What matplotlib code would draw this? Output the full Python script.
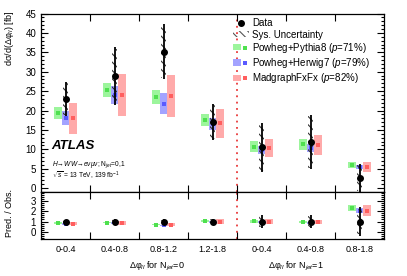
import matplotlib
matplotlib.use("Agg")
import matplotlib.pyplot as plt
import numpy as np
from matplotlib.patches import Patch
from matplotlib.lines import Line2D
from matplotlib.ticker import MultipleLocator, FixedLocator
from matplotlib.legend_handler import HandlerTuple

plt.rcParams['font.family'] = ['Liberation Sans', 'DejaVu Sans']
plt.rcParams['mathtext.fontset'] = 'custom'
plt.rcParams['mathtext.rm'] = 'Liberation Sans'
plt.rcParams['mathtext.it'] = 'Liberation Sans:italic'
plt.rcParams['mathtext.bf'] = 'Liberation Sans:bold'
plt.rcParams['hatch.linewidth'] = 0.8

# ---- data ----
bin_labels = ["0-0.4", "0.4-0.8", "0.8-1.2", "1.2-1.8", "0-0.4", "0.4-0.8", "0.8-1.8"]
obs = np.array([23.0, 28.9, 35.2, 17.0, 10.5, 11.8, 2.6])
obs_err = np.array([4.4, 7.4, 7.0, 4.6, 6.3, 7.0, 3.6])
obs_sys = np.array([4.1, 7.0, 6.7, 4.3, 6.0, 6.7, 3.3])
pythia = np.array([19.3, 25.3, 23.4, 17.6, 10.7, 11.3, 6.0])
pythia_err = np.array([1.5, 1.9, 1.8, 1.5, 1.5, 1.4, 0.8])
herwig = np.array([18.0, 23.9, 21.8, 16.6, 9.8, 10.3, 5.4])
herwig_err = np.array([1.8, 2.3, 2.6, 1.5, 1.1, 1.0, 0.6])
madgraph = np.array([18.0, 23.9, 23.8, 16.7, 10.3, 11.1, 5.4])
madgraph_err = np.array([4.0, 5.4, 5.4, 3.7, 2.4, 2.5, 1.3])

gen_names = ["Powheg+Pythia8 ($p$=71%)", "Powheg+Herwig7 ($p$=79%)", "MadgraphFxFx ($p$=82%)"]
gen_vals = [pythia, herwig, madgraph]
gen_errs = [pythia_err, herwig_err, madgraph_err]
gen_light = ["#9cf59c", "#a3a3ff", "#ffaaaa"]
gen_dark = ["#4fe04f", "#5a5aff", "#ff5e5e"]
gen_offsets = [-0.15, 0.0, 0.15]

W, H = 407, 276
fig = plt.figure(figsize=(W / 100, H / 100), dpi=100)
left, right = 41 / W, 384 / W
ax = fig.add_axes([left, 1 - 192 / H, right - left, (192 - 13.5) / H])
axr = fig.add_axes([left, 1 - 239 / H, right - left, (239 - 192) / H])

x = np.arange(len(obs)) + 0.5
box_w = 0.15
sys_w = 0.1


def draw(a, vals, errs, ovals, oerr, osys):
    for v, e, off, cl, cd in zip(vals, errs, gen_offsets, gen_light, gen_dark):
        a.bar(x + off, 2 * e, bottom=v - e, width=box_w, color=cl, edgecolor='none', zorder=2)
        a.plot(x + off, v, 's', color=cd, ms=3.2, mew=0, zorder=3)
    a.bar(x, 2 * osys, bottom=ovals - osys, width=sys_w, facecolor='none',
          edgecolor='#333333', hatch='\\\\\\\\', linewidth=0, zorder=4)
    a.errorbar(x, ovals, yerr=oerr, fmt='o', color='black', ms=4, elinewidth=1.3,
               capsize=0, zorder=5)


draw(ax, gen_vals, gen_errs, obs, obs_err, obs_sys)
draw(axr, [v / obs for v in gen_vals], [e / obs for e in gen_errs],
     np.ones_like(obs), obs_err / obs, obs_sys / obs)

for a in (ax, axr):
    a.set_xlim(0, len(obs))
    a.axvline(4, color='#e8393a', ls=(0, (1, 2.5)), lw=1.3, zorder=1)
    a.xaxis.set_major_locator(FixedLocator(np.arange(1, len(obs))))
    a.tick_params(axis='both', which='both', direction='in', top=True, right=True,
                  labelsize=7, width=0.8)
    a.tick_params(axis='both', which='major', length=5)
    a.tick_params(axis='y', which='minor', length=2.5)
    for s in a.spines.values():
        s.set_linewidth(0.9)

ax.set_ylim(-1, 45)
ax.yaxis.set_major_locator(MultipleLocator(5))
ax.yaxis.set_minor_locator(MultipleLocator(1))
ax.set_xticklabels([])

axr.set_ylim(-0.72, 3.9)
axr.yaxis.set_major_locator(FixedLocator([0, 1, 2, 3]))
axr.yaxis.set_minor_locator(MultipleLocator(0.2))
axr.set_xticks(x, minor=True)
axr.set_xticklabels([], minor=False)
axr.set_xticklabels(bin_labels, minor=True, fontsize=6.5)
axr.tick_params(axis='x', which='minor', length=0, pad=4)

fig.text(10 / W, 1 - 10 / H, "dσ/d(Δφ$_{ll}$) [fb]", rotation=90, ha='center', va='top', fontsize=6.5)
fig.text(10 / W, 1 - 213 / H, "Pred. / Obs.", rotation=90, ha='center', va='center', fontsize=6.5)
axr.text(2.37, -0.58, "Δφ$_{ll}$ for N$_{jet}$=0", transform=axr.get_xaxis_transform(),
         ha='center', va='center', fontsize=6.5)
axr.text(5.2, -0.58, "Δφ$_{ll}$ for N$_{jet}$=1", transform=axr.get_xaxis_transform(),
         ha='center', va='center', fontsize=6.5)

fig.text(51 / W, 1 - 146 / H, "ATLAS", fontsize=9.5, fontweight='bold', fontstyle='italic',
         ha='left', va='center')
fig.text(52 / W, 1 - 164.5 / H, r"$H\!\rightarrow\!WW\!\rightarrow\!e\nu\mu\nu$; N$_{jet}$=0,1",
         fontsize=4.8, ha='left', va='center')
fig.text(52 / W, 1 - 175.5 / H, r"$\sqrt{s}$ = 13 TeV, 139 fb$^{-1}$",
         fontsize=4.8, ha='left', va='center')

handles = [Line2D([], [], marker='o', color='black', ls='none', ms=4),
           Patch(facecolor='none', edgecolor='#555555', hatch='\\\\\\\\', linewidth=0)]
for cl, cd in zip(gen_light, gen_dark):
    handles.append((Patch(facecolor=cl, edgecolor='none'),
                    Line2D([], [], marker='s', color=cd, ls='none', ms=3.2, mew=0)))
labels = ["Data", "Sys. Uncertainty"] + gen_names
ax.legend(handles, labels, loc='upper left', bbox_to_anchor=(233 / W, 1 - 18.5 / H),
          bbox_transform=fig.transFigure, frameon=False, fontsize=7,
          handlelength=1.6, handleheight=0.6, handletextpad=0.4, labelspacing=0.12,
          borderaxespad=0, borderpad=0, handler_map={tuple: HandlerTuple(ndivide=None)})

fig.savefig("out.png", dpi=100)
